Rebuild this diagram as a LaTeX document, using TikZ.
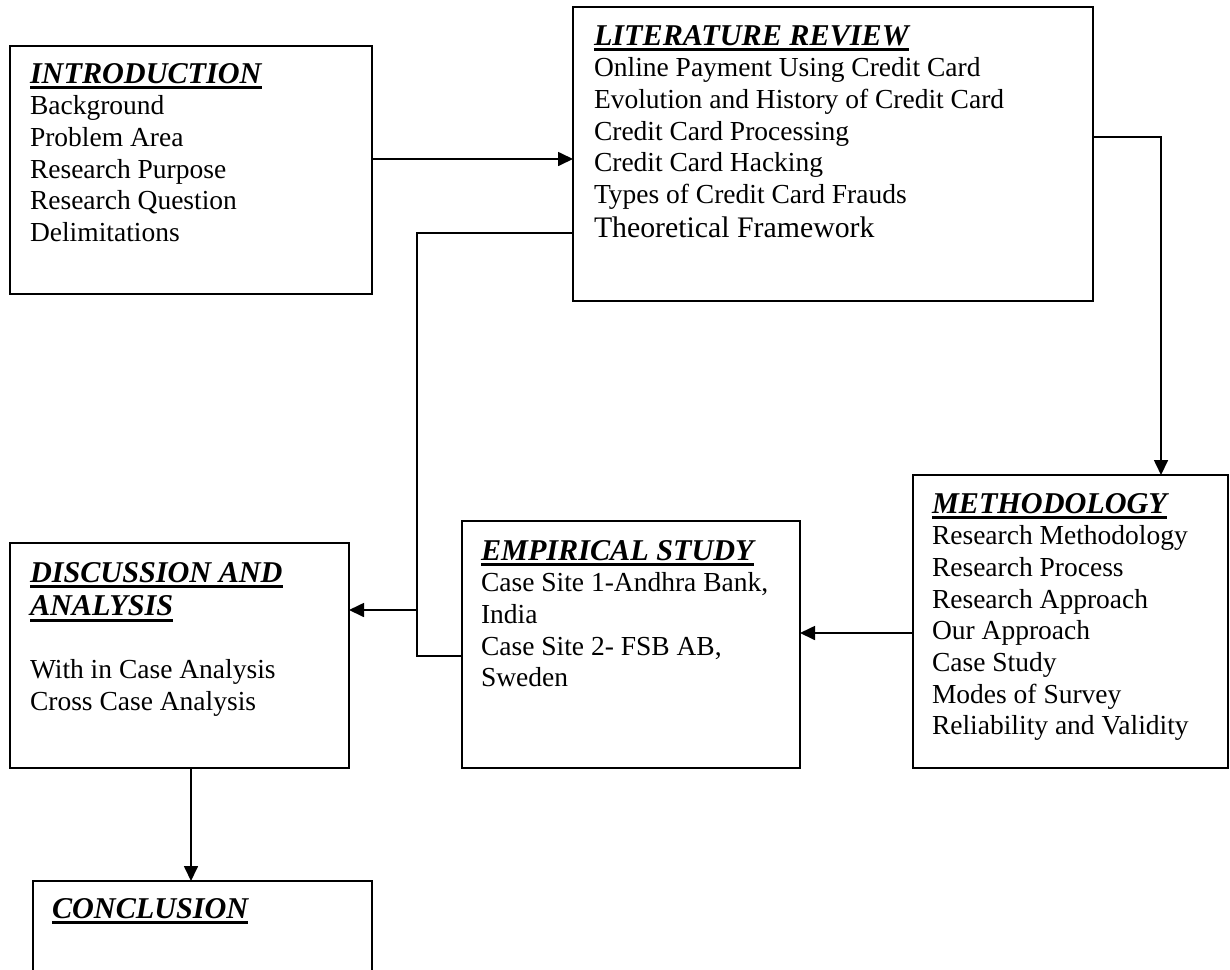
\documentclass[tikz,border=0pt]{standalone}
\usepackage{fontspec}
\setmainfont{Liberation Serif}
\usetikzlibrary{arrows.meta,calc}

% bold italic underlined section heading
\newcommand\secthead[1]{\leavevmode
  \setbox0\hbox{\fontsize{15.1}{16}\selectfont\bfseries\itshape #1}%
  \rlap{\rule[-3.2pt]{\wd0}{1.5pt}}\box0}

\begin{document}
\begin{tikzpicture}[x=0.5pt,y=-0.5pt,
  box/.style={draw, line width=0.85pt, inner sep=0pt, outer sep=0pt},
  txt/.style={anchor=base west, inner sep=0pt, outer sep=0pt},
  link/.style={line width=0.85pt},
  arr/.style={line width=0.85pt, -{Triangle[length=7.5pt,width=7pt]}}]

\useasboundingbox (0,0) rectangle (1230,969);
\fill[white] (0,0) rectangle (1230,969);
\clip (0,0) rectangle (1230,969);

% chapter boxes
\node[box, minimum width=181pt, minimum height=124pt]   (intro) at (191,170) {};
\node[box, minimum width=260pt, minimum height=147pt]   (lr)    at (833,154) {};
\node[box, minimum width=157.5pt, minimum height=146.5pt] (meth) at (1070.5,621.5) {};
\node[box, minimum width=169pt, minimum height=123.5pt] (emp)   at (631,644.5) {};
\node[box, minimum width=169.5pt, minimum height=112.5pt] (disc) at (179.5,655.5) {};
\node[box, minimum width=169.5pt, minimum height=64.5pt] (concl) at (202.5,945.5) {};

% box contents
\node[txt] (introtxt) at (30,83) {\parbox[t]{170pt}{\fontsize{13.75}{15.85}\selectfont
  \secthead{INTRODUCTION}\\
  Background\\
  Problem Area\\
  Research Purpose\\
  Research Question\\
  Delimitations}};

\node[txt] (lrtxt) at (594,45) {\parbox[t]{250pt}{\fontsize{13.75}{15.85}\selectfont
  \secthead{LITERATURE REVIEW}\\
  Online Payment Using Credit Card\\
  Evolution and History of Credit Card\\
  Credit Card Processing\\
  Credit Card Hacking\\
  Types of Credit Card Frauds\\[1.1pt]
  {\fontsize{14.9}{15.85}\selectfont Theoretical Framework}}};

\node[txt] (methtxt) at (932,513) {\parbox[t]{150pt}{\fontsize{13.75}{15.85}\selectfont
  \secthead{METHODOLOGY}\\
  Research Methodology\\
  Research Process\\
  Research Approach\\
  Our Approach\\
  Case Study\\
  Modes of Survey\\
  Reliability and Validity}};

\node[txt] (emptxt) at (481,560) {\parbox[t]{160pt}{\fontsize{13.75}{15.85}\selectfont
  \secthead{EMPIRICAL STUDY}\\
  Case Site 1-Andhra Bank,\\
  India\\
  Case Site 2- FSB AB,\\
  Sweden}};

\node[txt] (disctxt) at (30,582) {\parbox[t]{160pt}{\fontsize{13.75}{15.85}\selectfont
  \secthead{DISCUSSION AND}\\[0.8pt]
  \secthead{ANALYSIS}\\[15.85pt]
  With in Case Analysis\\
  Cross Case Analysis}};

\node[txt] (concltxt) at (52,918) {\fontsize{13.75}{15.85}\selectfont\secthead{CONCLUSION}};

% connectors
\draw[arr] (intro.east |- 0,159) -- (lr.west |- 0,159);
\draw[arr] (lr.east |- 0,137) -| (meth.north -| 1161,0);
\draw[arr] (meth.west |- 0,633) -- (emp.east |- 0,633);
\coordinate (junc) at (417,610);
\draw[link] (lr.west |- 0,233) -| (junc) |- (emp.west |- 0,656);
\draw[arr] (junc) -- (junc -| disc.east);
\draw[arr] (disc.south -| 191,0) -- (concl.north -| 191,0);
\end{tikzpicture}
\end{document}
